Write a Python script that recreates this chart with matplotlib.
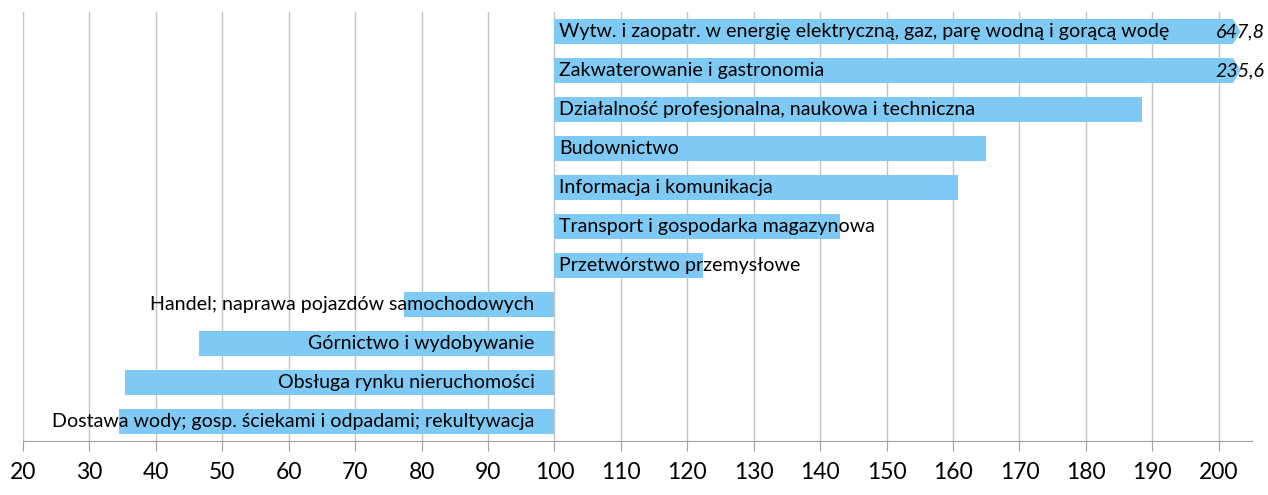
import matplotlib
matplotlib.use("Agg")
import matplotlib.pyplot as plt
from matplotlib.patches import Polygon

categories = [
    "Wytw. i zaopatr. w energię elektryczną, gaz, parę wodną i gorącą wodę",
    "Zakwaterowanie i gastronomia",
    "Działalność profesjonalna, naukowa i techniczna",
    "Budownictwo",
    "Informacja i komunikacja",
    "Transport i gospodarka magazynowa",
    "Przetwórstwo przemysłowe",
    "Handel; naprawa pojazdów samochodowych",
    "Górnictwo i wydobywanie",
    "Obsługa rynku nieruchomości",
    "Dostawa wody; gosp. ściekami i odpadami; rekultywacja",
]
values = [647.8, 235.6, 188.5, 164.9, 160.7, 143.0, 122.4, 77.4, 46.5, 35.4, 34.5]
value_labels = ["647,8", "235,6"]
base = 100
xticks = list(range(20, 201, 10))

# layout / style
cap = 202.1
tip = 1.2
color = "#7fcaf4"
grid_color = "#c4c4c4"
font = "Lato"
fs = 14.1

fig = plt.figure(figsize=(12.68, 4.95), dpi=100)
ax = fig.add_axes([23 / 1268, 1 - 441 / 495, (1252 - 23) / 1268, (441 - 12) / 495])

n = len(categories)
ys = [n - 1 - i for i in range(n)]
h = 0.66

shown = [min(v, cap) for v in values]
widths = [s - base for s in shown]
ax.barh(ys, widths, left=base, height=h, color=color, zorder=2)

vi = 0
for y, v, s, lab in zip(ys, values, shown, categories):
    if v > cap:
        poly = Polygon([(cap, y - h / 2), (cap + tip, y), (cap, y + h / 2)],
                       closed=True, color=color, zorder=2, lw=0)
        ax.add_patch(poly)
        ax.text(206.9, y, value_labels[vi], ha="right", va="center",
                fontsize=fs, style="italic", family=font, zorder=3, clip_on=False)
        vi += 1
    if v >= base:
        ax.text(base + 0.7, y, lab, ha="left", va="center", fontsize=fs,
                family=font, zorder=3)
    else:
        ax.text(base - 3, y, lab, ha="right", va="center", fontsize=fs,
                family=font, zorder=3)

ax.set_xlim(20, 205)
ax.set_ylim(-0.5, n - 0.5)
ax.set_xticks(xticks)
ax.set_xticklabels([str(t) for t in xticks], fontsize=16.5, family=font)
ax.set_yticks([])
ax.grid(axis="x", color=grid_color, lw=1, zorder=0)
ax.set_axisbelow(True)
for s in ["top", "right"]:
    ax.spines[s].set_visible(False)
ax.spines["left"].set_color(grid_color)
ax.spines["bottom"].set_color("#a0a0a0")
ax.tick_params(axis="x", length=7, color="#a0a0a0", pad=8)

fig.savefig("out.png", dpi=100)
